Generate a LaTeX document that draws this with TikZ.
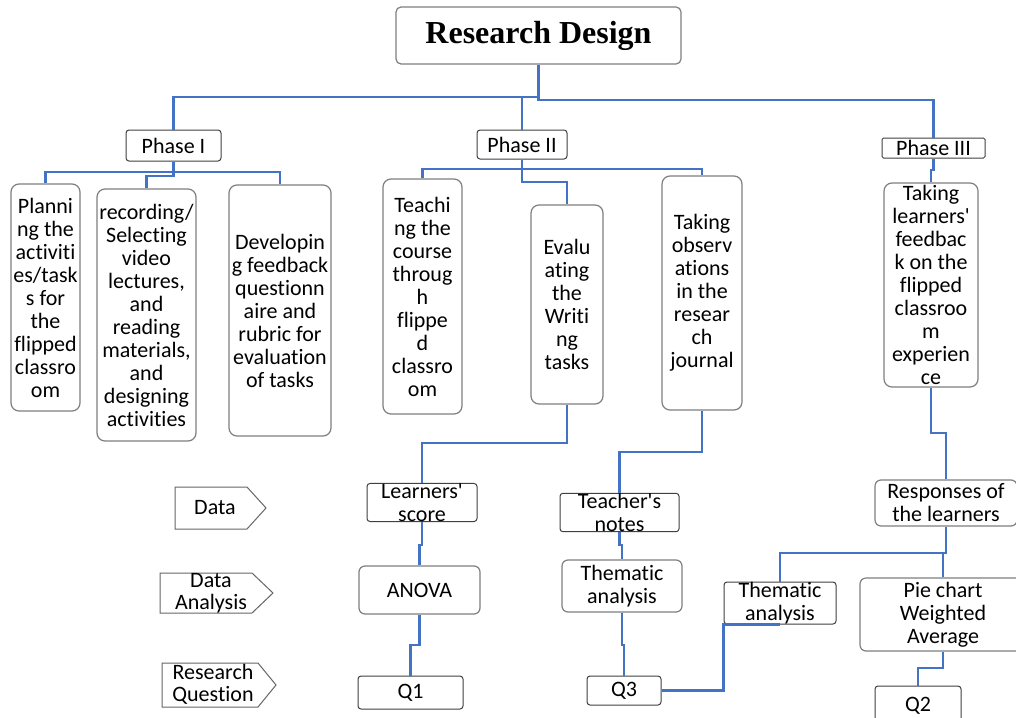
\documentclass[tikz,border=0pt]{standalone}
\usepackage{fontspec}
\setmainfont{Carlito}[Ligatures={NoCommon}]
\newfontfamily\titlefont{Liberation Serif}
\definecolor{lineblue}{HTML}{4472C4}
\definecolor{boxgray}{HTML}{7F7F7F}
\newcommand{\bodyf}{\fontsize{22}{23}\selectfont}
\newcommand{\apos}{\textquotesingle}
\tikzset{
  rbox/.style={draw=boxgray, line width=1.2pt, rounded corners=8pt, inner sep=0pt, align=center, font=\bodyf, fill=white},
  sbox/.style={draw=black!75, line width=1pt, rounded corners=3pt, inner sep=0pt, align=center, font=\bodyf},
  conn/.style={draw=lineblue, line width=2.6pt},
  tagshape/.style={draw=black!60, line width=1pt, fill=white},
  tagtext/.style={font=\fontsize{22}{22}\selectfont, align=center, inner sep=0pt}
}
\begin{document}
\begin{tikzpicture}[x=1pt,y=-1pt]
\useasboundingbox[fill=white] (0,0) rectangle (1016,717);

% nodes
\node[rbox, rounded corners=5pt, minimum width=285pt, minimum height=57pt, font=\titlefont\bfseries\fontsize{32}{34}\selectfont] (title) at (538.5,35.5) {Research Design};

\node[sbox, minimum width=95pt, minimum height=31pt] (p1) at (173.5,145.5) {Phase I};
\node[sbox, minimum width=90pt, minimum height=29pt] (p2) at (522,144.5) {Phase II};
\node[sbox, rounded corners=1.5pt, minimum width=103pt, minimum height=20pt] (p3) at (933.5,148) {Phase III};

\node[rbox, minimum width=69pt, minimum height=227pt] (a1) at (45.5,297.5) {Planni\\ng the\\activiti\\es/task\\s for\\the\\flipped\\classro\\om};
\node[rbox, minimum width=99pt, minimum height=252pt] (a2) at (146.5,315) {recording/\\Selecting\\video\\lectures,\\and\\reading\\materials,\\and\\designing\\activities};
\node[rbox, minimum width=102pt, minimum height=251pt] (a3) at (280,310.5) {Developin\\g feedback\\questionn\\aire and\\rubric for\\evaluation\\of tasks};

\node[rbox, minimum width=79pt, minimum height=235pt] (b1) at (422.5,296.5) {Teachi\\ng the\\course\\throug\\h\\flippe\\d\\classro\\om};
\node[rbox, minimum width=72pt, minimum height=199pt] (b2) at (567,304.5) {Evalu\\ating\\the\\Writi\\ng\\tasks};
\node[rbox, minimum width=80pt, minimum height=234pt] (b3) at (702,293) {Taking\\observ\\ations\\in the\\resear\\ch\\journal};

\node[rbox, minimum width=94pt, minimum height=204pt] (c1) at (931,285) {Taking\\learners\apos\\feedbac\\k on the\\flipped\\classroo\\m\\experien\\ce};

\node[sbox, minimum width=110pt, minimum height=37pt] (ls) at (422,502.5) {Learners\apos\\score};
\node[rbox, rounded corners=6pt, minimum width=121pt, minimum height=48pt] (anova) at (419.5,590) {ANOVA};
\node[sbox, minimum width=105pt, minimum height=33pt] (q1) at (410.5,692.5) {Q1};

\node[sbox, minimum width=119pt, minimum height=35pt] (tn) at (619.5,512.5) {Teacher\apos s\\notes};
\node[rbox, rounded corners=6pt, minimum width=120pt, minimum height=52pt] (ta1) at (622,586) {Thematic\\analysis};
\node[sbox, minimum width=74pt, minimum height=29pt] (q3) at (624,690.5) {Q3};

\node[rbox, rounded corners=6pt, minimum width=142pt, minimum height=46pt] (resp) at (946,503) {Responses of\\the learners};
\node[sbox, minimum width=112pt, minimum height=42pt] (ta2) at (780,603) {Thematic\\analysis};
\node[rbox, rounded corners=6pt, minimum width=166pt, minimum height=73pt] (pie) at (943,614.5) {Pie chart\\Weighted\\Average};
\node[sbox, minimum width=86pt, minimum height=39pt] (q2) at (918,705.5) {Q2};

% left-hand row labels
\draw[tagshape] (175,487) -- (247,487) -- (266,508) -- (247,529) -- (175,529) -- cycle;
\node[tagtext] (ldata) at (215,508) {Data};
\draw[tagshape] (160,573) -- (252,573) -- (273,593) -- (252,613) -- (160,613) -- cycle;
\node[tagtext] (lana) at (211,593) {Data\\Analysis};
\draw[tagshape] (162,663) -- (258,663) -- (276,685) -- (258,707) -- (162,707) -- cycle;
\node[tagtext] (lrq) at (213,684) {Research\\Question};

% connectors: top level
\draw[conn] (title.south) -- (title.south |- 0,100) -| (p3.north);
\draw[conn] (p1.north) -- (p1.north |- 0,97) -- (title.south |- 0,97);
\draw[conn] (p2.north) -- (p2.north |- 0,97);

% phase I
\draw[conn] (a1.north) -- (a1.north |- 0,172) -- (a3.north |- 0,172) -- (a3.north);
\draw[conn] (p1.south) -- (p1.south |- 0,176) -- (a2.north |- 0,176) -- (a2.north);

% phase II
\draw[conn] (b1.north) -- (b1.north |- 0,169) -- (b3.north |- 0,169) -- (b3.north);
\draw[conn] (p2.south) -- (p2.south |- 0,182) -- (b2.north |- 0,182) -- (b2.north);

% phase III
\draw[conn] (p3.south) -- (p3.south |- 0,170) -| (c1.north);

% lower chains
\draw[conn] (b2.south) -- (b2.south |- 0,443) -| (ls.north);
\draw[conn] (ls.south) -- (ls.south |- 0,545) -| (anova.north);
\draw[conn] (anova.south) -- (anova.south |- 0,645) -| (q1.north);

\draw[conn] (b3.south) -- (b3.south |- 0,452) -| (tn.north);
\draw[conn] (tn.south) -- (tn.south |- 0,545) -| (ta1.north);
\draw[conn] (ta1.south) -- (ta1.south |- 0,645) -| (q3.north);
\draw[conn] (q3.east) -| (ta2.south west) -- (ta2.south);

\draw[conn] (c1.south) -- (c1.south |- 0,433) -| (resp.north);
\draw[conn] (resp.south) -- (resp.south |- 0,553) -- (ta2.north |- 0,553) -- (ta2.north);
\draw[conn] (pie.north) -- (pie.north |- 0,553);
\draw[conn] (pie.south) -- (pie.south |- 0,668) -| (q2.north);
\end{tikzpicture}
\end{document}
